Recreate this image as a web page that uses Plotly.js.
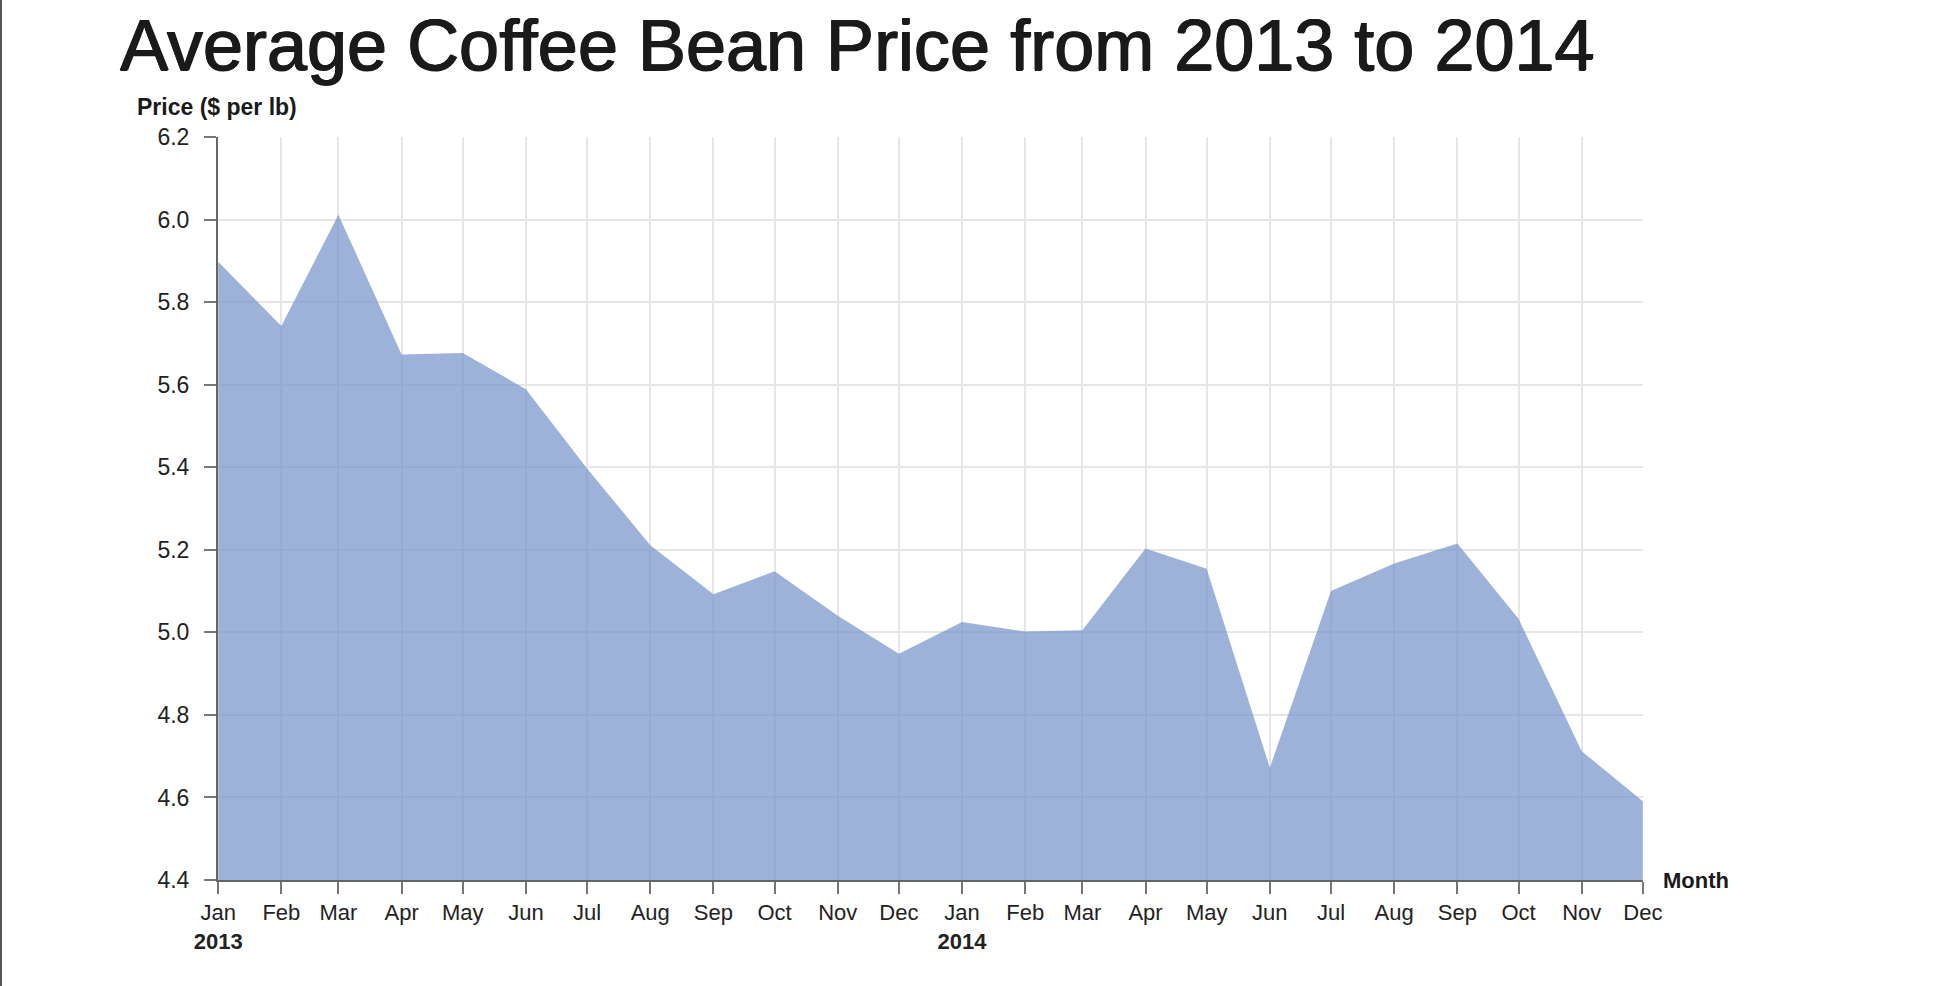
<!DOCTYPE html>
<html>
<head>
<meta charset="utf-8">
<script src="https://cdn.plot.ly/plotly-3.0.1.min.js"></script>
<style>
  html, body { margin: 0; padding: 0; background: #fff; }
  #chart { position: absolute; left: 0; top: 0; width: 1956px; height: 986px; }
  #edge { position: absolute; left: 0; top: 0; width: 2px; height: 986px; background: #555; }
</style>
</head>
<body>
<div id="chart"></div>
<div id="edge"></div>
<script>
const months = [
  '2013-01-01','2013-02-01','2013-03-01','2013-04-01','2013-05-01','2013-06-01',
  '2013-07-01','2013-08-01','2013-09-01','2013-10-01','2013-11-01','2013-12-01',
  '2014-01-01','2014-02-01','2014-03-01','2014-04-01','2014-05-01','2014-06-01',
  '2014-07-01','2014-08-01','2014-09-01','2014-10-01','2014-11-01','2014-12-01'
];
const prices = [
  5.898, 5.742, 6.012, 5.673, 5.677, 5.589,
  5.397, 5.211, 5.092, 5.148, 5.040, 4.948,
  5.025, 5.002, 5.005, 5.203, 5.154, 4.672,
  5.100, 5.167, 5.215, 5.033, 4.712, 4.591
];
const tickLabels = [
  'Jan<br><b>2013</b>','Feb','Mar','Apr','May','Jun','Jul','Aug','Sep','Oct','Nov','Dec',
  'Jan<br><b>2014</b>','Feb','Mar','Apr','May','Jun','Jul','Aug','Sep','Oct','Nov','Dec'
];
const titleText = 'Average Coffee Bean Price from 2013 to 2014';
const yTitle = 'Price ($ per lb)';
const xTitle = 'Month';

const FONT = 'Liberation Sans, Arial, Helvetica, sans-serif';

const trace = {
  type: 'scatter',
  mode: 'lines',
  x: months,
  y: prices,
  fill: 'tozeroy',
  fillcolor: 'rgba(116,145,199,0.7)',
  line: { width: 0, color: 'rgba(116,145,199,0)' },
  hoverinfo: 'x+y'
};

const layout = {
  width: 1956,
  height: 986,
  paper_bgcolor: '#fff',
  plot_bgcolor: '#fff',
  showlegend: false,
  margin: { l: 218, r: 313, t: 137, b: 106, pad: 0 },
  font: { family: FONT, color: '#222', size: 22 },
  title: {
    text: titleText,
    font: {
      family: FONT, size: 72, color: '#1a1a1a',
      shadow: '1px 0 0 #1a1a1a, -0.5px 0 0 #1a1a1a, 0 0.6px 0 #1a1a1a'
    },
    xref: 'container', yref: 'container',
    x: 120 / 1956, xanchor: 'left',
    y: 1 - 45 / 986, yanchor: 'middle'
  },
  xaxis: {
    type: 'date',
    range: ['2012-12-31 22:00', '2014-12-01 02:00'],
    tickmode: 'array',
    tickvals: months,
    ticktext: tickLabels,
    ticks: 'outside', ticklen: 12, tickwidth: 2, tickcolor: '#777',
    showline: true, linecolor: '#666', linewidth: 2,
    showgrid: true, gridcolor: '#e6e6e6', gridwidth: 2,
    zeroline: false,
    tickfont: { family: FONT, size: 22, color: '#222' },
    tickangle: 0,
    fixedrange: true
  },
  yaxis: {
    range: [4.4, 6.2001],
    tickmode: 'linear', tick0: 4.4, dtick: 0.2,
    tickformat: '.1f',
    ticks: 'outside', ticklen: 12, tickwidth: 2, tickcolor: '#777',
    showline: true, linecolor: '#666', linewidth: 2,
    showgrid: true, gridcolor: '#e6e6e6', gridwidth: 2,
    zeroline: false,
    tickfont: { family: FONT, size: 23, color: '#222' },
    ticklabelstandoff: 10,
    fixedrange: true
  },
  annotations: [
    {
      text: '<b>' + yTitle + '</b>',
      xref: 'paper', yref: 'paper',
      x: (135 - 218) / 1425, xanchor: 'left',
      y: 1 + (137 - 107) / 743, yanchor: 'middle',
      showarrow: false,
      font: { family: FONT, size: 23, color: '#1a1a1a' }
    },
    {
      text: '<b>' + xTitle + '</b>',
      xref: 'paper', yref: 'paper',
      x: 1 + 18 / 1425, xanchor: 'left',
      y: -1 / 743, yanchor: 'middle',
      showarrow: false,
      font: { family: FONT, size: 22, color: '#1a1a1a' }
    }
  ]
};

Plotly.newPlot('chart', [trace], layout, { displayModeBar: false, staticPlot: true });
</script>
</body>
</html>
